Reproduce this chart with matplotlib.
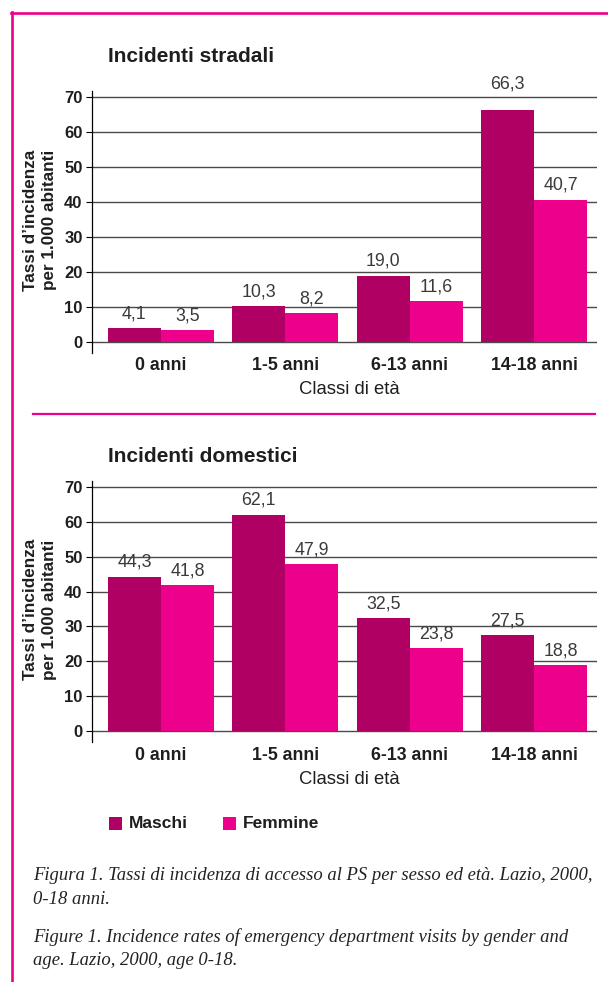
import matplotlib
matplotlib.use("Agg")
import matplotlib.pyplot as plt
from matplotlib.lines import Line2D
from matplotlib.patches import Rectangle

plt.rcParams['font.family'] = ['Liberation Sans', 'DejaVu Sans']

# ---------------- data ----------------
categories = ["0 anni", "1-5 anni", "6-13 anni", "14-18 anni"]
series_names = ["Maschi", "Femmine"]
stradali_maschi = [4.1, 10.3, 19.0, 66.3]
stradali_femmine = [3.5, 8.2, 11.6, 40.7]
domestici_maschi = [44.3, 62.1, 32.5, 27.5]
domestici_femmine = [41.8, 47.9, 23.8, 18.8]
yticks = [0, 10, 20, 30, 40, 50, 60, 70]
titles = ["Incidenti stradali", "Incidenti domestici"]
xlabel = "Classi di età"
ylabel = "Tassi d\u2019incidenza\nper 1.000 abitanti"
caption_lines = [
    "Figura 1. Tassi di incidenza di accesso al PS per sesso ed età. Lazio, 2000,",
    "0-18 anni.",
    "Figure 1. Incidence rates of emergency department visits by gender and",
    "age. Lazio, 2000, age 0-18.",
]

# ---------------- style ----------------
W, H = 608, 982
C_M = "#b00064"
C_F = "#ec008c"
PINK = "#ec008c"
GRID = "#4a4a4a"
TXT = "#1e1e1e"

fig = plt.figure(figsize=(W / 100, H / 100), dpi=100)


def fx(px):
    return px / W


def fy(py):
    return 1 - py / H


def fmt(v):
    return f"{v:.1f}".replace(".", ",")


def draw_panel(top_px, bot_px, maschi, femmine, title, title_base, cat_label_y, xlabel_y):
    left_px, right_px = 92, 597
    ax = fig.add_axes([fx(left_px), fy(bot_px), (right_px - left_px) / W, (bot_px - top_px) / H])
    bw = 0.426
    xs = list(range(len(categories)))
    ax.bar([x - bw / 2 for x in xs], maschi, width=bw, color=C_M, zorder=3, linewidth=0)
    ax.bar([x + bw / 2 for x in xs], femmine, width=bw, color=C_F, zorder=3, linewidth=0)
    ax.set_xlim(-0.554, 3.506)
    ax.set_ylim(-3.14, 71.71)
    ax.set_yticks(yticks)
    ax.set_yticklabels([str(t) for t in yticks], fontsize=12, fontweight='bold', color=TXT)
    ax.tick_params(axis='y', direction='out', length=4.3, width=0.8, color='black', pad=2.5)
    ax.set_xticks(xs)
    ax.set_xticklabels([])
    ax.tick_params(axis='x', length=0)
    ax.grid(axis='y', color=GRID, linewidth=1.0, zorder=0)
    ax.set_axisbelow(True)
    for s in ['top', 'right', 'bottom']:
        ax.spines[s].set_visible(False)
    ax.spines['left'].set_linewidth(0.9)
    ax.spines['left'].set_color('black')
    ax.patch.set_alpha(0)

    # value labels
    for vals, off in ((maschi, -bw / 2), (femmine, bw / 2)):
        for x, v in zip(xs, vals):
            ly = v + 1.6
            if v > 64:
                ly = 71.4
            ax.text(x + off, ly, fmt(v), ha='center', va='bottom', fontsize=12.8,
                    color='#3a3a3a', zorder=5)

    # category labels
    for x, c in zip(xs, categories):
        px = left_px + (x + 0.554) / 4.06 * (right_px - left_px)
        fig.text(fx(px), fy(cat_label_y), c, ha='center', va='center', fontsize=12.8,
                 fontweight='bold', color=TXT)
    fig.text(fx(349), fy(xlabel_y), xlabel, ha='center', va='center', fontsize=13.3, color=TXT)

    # y label
    fig.text(fx(40), fy((top_px + bot_px) / 2 - 2), ylabel, rotation=90, ha='center', va='center',
             fontsize=12.3, fontweight='bold', color=TXT, linespacing=1.3, multialignment='center')

    # title
    fig.text(fx(108), fy(title_base), title, ha='left', va='baseline', fontsize=15,
             fontweight='bold', color=TXT)
    return ax


draw_panel(91, 353, stradali_maschi, stradali_femmine, titles[0], 62, 365, 390)
draw_panel(481, 742, domestici_maschi, domestici_femmine, titles[1], 462, 755, 779)

# frame lines
fig.add_artist(Line2D([fx(12), fx(12)], [fy(11.5), fy(H + 5)], color=PINK, lw=1.9))
fig.add_artist(Line2D([fx(11), fx(W + 5)], [fy(12.5), fy(12.5)], color=PINK, lw=1.9))
fig.add_artist(Line2D([fx(33), fx(595)], [fy(414), fy(414)], color=PINK, lw=1.6))

# legend
leg_x = [109, 223]
for lx, name, col in zip(leg_x, series_names, [C_M, C_F]):
    fig.add_artist(Rectangle((fx(lx), fy(830)), 13 / W, 13 / H, color=col, linewidth=0))
    fig.text(fx(lx + 20), fy(824), name, ha='left', va='center', fontsize=12.5,
             fontweight='bold', color=TXT)

# captions (one text per line)
cap_baselines = [880, 904, 942, 965]
for line, yb in zip(caption_lines, cap_baselines):
    fig.text(fx(33), fy(yb), line, ha='left', va='baseline', fontsize=13.4,
             fontstyle='italic', family=['Liberation Serif', 'DejaVu Serif'], color='#222222')

fig.savefig("out.png", dpi=100)
